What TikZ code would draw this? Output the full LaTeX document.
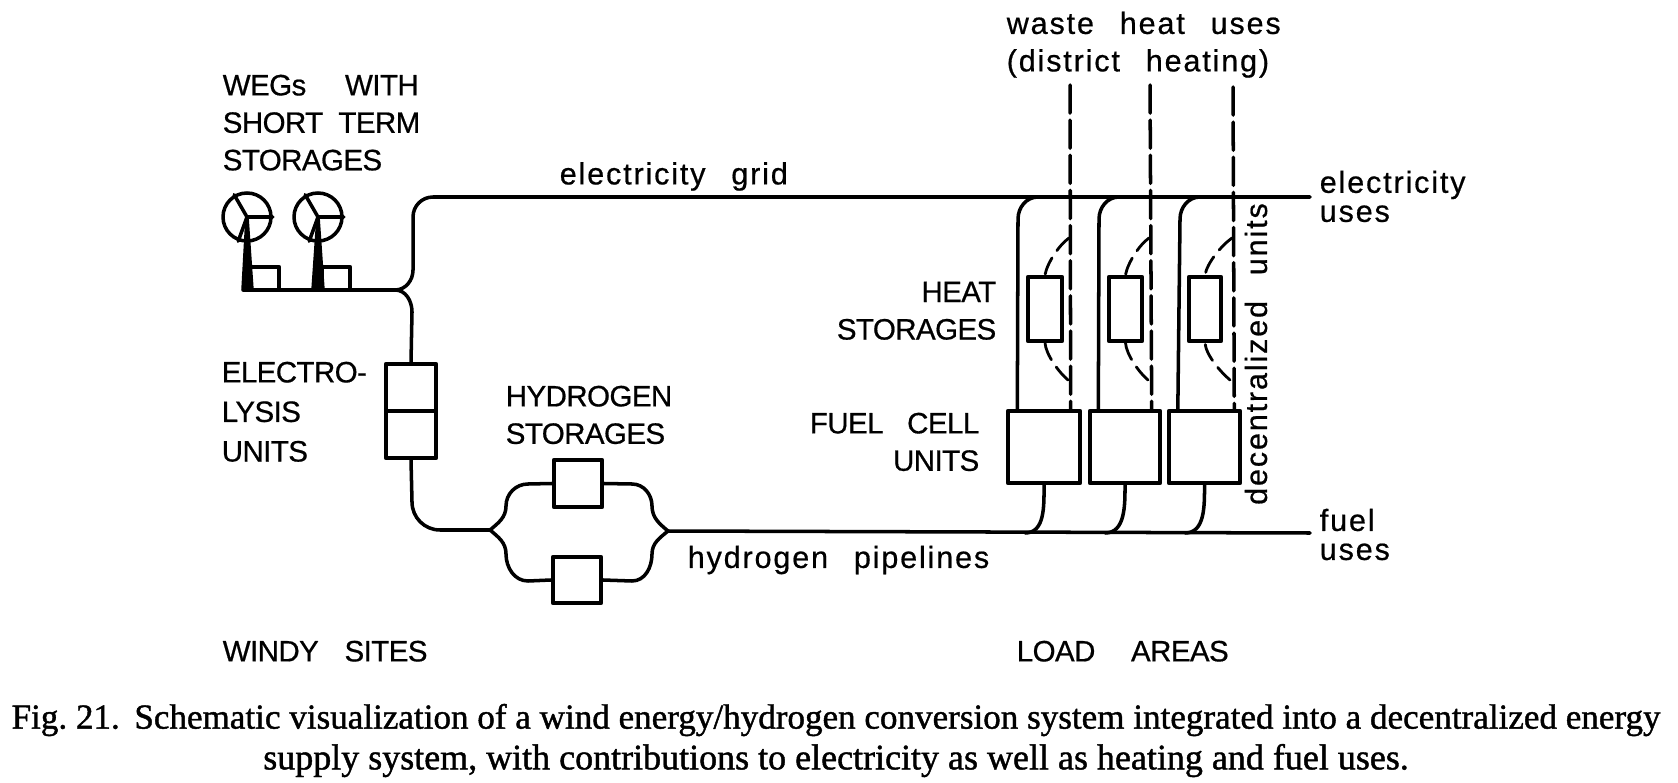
\documentclass[tikz,border=0pt]{standalone}
\usepackage{fontspec}
\newfontfamily\labelfont[LetterSpace=6,WordSpace=2.5,FakeBold=.6]{Liberation Sans}
\newfontfamily\upperfont[LetterSpace=-2,WordSpace=2,FakeBold=.6]{Liberation Sans}
\newfontfamily\capfont[FakeBold=1.2]{Liberation Serif}
\begin{document}
\begin{tikzpicture}[line join=round, line cap=round, line width=1pt, font=\labelfont\fontsize{8.7}{10.66}\selectfont,
	unit/.style={draw, line width=1.2pt, rectangle, inner sep=0pt},
	txt/.style={inner sep=0pt, align=left},
	upper/.style={txt, font=\upperfont\fontsize{8.4}{10.66}\selectfont},
	heat/.style={line width=1pt, dash pattern=on 8pt off 2pt},
	tap/.style={line width=.8pt, dash pattern=on 5pt off 2.5pt}]
		\useasboundingbox (0,0) rectangle (16.78,7.82);
		\node[upper, anchor=north west] (wegtext) at (2.21,7.09) {WEGs\hspace{6.7pt} WITH\\SHORT TERM\\STORAGES};
		\node[draw, circle, inner sep=0pt, minimum size=.48cm] (rotor1) at (2.47,5.65) {};
		\node[draw, circle, inner sep=0pt, minimum size=.48cm] (rotor2) at (3.18,5.65) {};
		\draw (rotor1.center)--(rotor1.120) (rotor1.center)--(rotor1.0) (rotor1.center)--(rotor1.250);
		\draw (rotor2.center)--(rotor2.120) (rotor2.center)--(rotor2.0) (rotor2.center)--(rotor2.250);
		\node[unit, minimum width=.29cm, minimum height=.23cm] (buffer1) at (2.645,5.035) {};
		\node[unit, minimum width=.28cm, minimum height=.23cm] (buffer2) at (3.36,5.035) {};
		\coordinate (base) at (2.44,4.92);
		\coordinate (split) at (3.95,4.92);
		\coordinate (gridend) at (13.10,5.85);
		\coordinate (fuelend) at (13.10,2.49);
		\filldraw (rotor1.center)--(2.52,4.92)--(2.43,4.92)--cycle;
		\filldraw (rotor2.center)--(3.23,4.92)--(3.13,4.92)--cycle;
		\draw (base)--(split);
		\draw (split) to[out=0,in=-90] (4.13,5.12)--(4.13,5.65) to[out=90,in=180] (4.33,5.85)--(gridend);
		\node[txt, anchor=south west] (gridtext) at (5.58,5.895) {electricity grid};
		\node[unit, minimum width=.50cm, minimum height=.47cm] (electro1) at (4.11,3.945) {};
		\node[unit, minimum width=.50cm, minimum height=.47cm] (electro2) at (4.11,3.475) {};
		\node[upper, anchor=north west] (electext) at (2.20,4.22) {ELECTRO-\\[.6pt]LYSIS\\[.6pt]UNITS};
		\draw (split) to[out=0,in=90] (4.12,4.70)--(electro1.north);
		\draw (electro2.south)--(4.12,2.80) to[out=-90,in=180] (4.40,2.52)--(4.90,2.52);
		\node[unit, minimum width=.48cm, minimum height=.47cm] (store1) at (5.78,2.985) {};
		\node[unit, minimum width=.48cm, minimum height=.46cm] (store2) at (5.77,2.02) {};
		\node[upper, anchor=north west] (storetext) at (5.04,3.98) {HYDROGEN\\STORAGES};
		\coordinate (joinL) at (4.90,2.52);
		\coordinate (joinR) at (6.68,2.51);
		\draw (joinL) to[out=40,in=-90] (5.06,2.76) to[out=90,in=180] (5.28,2.98)--(store1.west);
		\draw (joinL) to[out=-40,in=90] (5.06,2.28) to[out=-90,in=180] (5.28,2.01)--(store2.west);
		\draw (store1.east)--(6.32,2.98) to[out=0,in=90] (6.52,2.76) to[out=-90,in=140] (joinR);
		\draw (store2.east)--(6.32,2.01) to[out=0,in=-90] (6.52,2.28) to[out=90,in=-140] (joinR);
		\draw (joinR)--(fuelend);
		\node[txt, anchor=north west] (pipetext) at (6.86,2.38) {hydrogen pipelines};
		\node[upper, anchor=north west] (windytext) at (2.21,1.43) {WINDY\hspace{3pt} SITES};
		\node[upper, anchor=north west] (loadtext) at (10.15,1.43) {LOAD\hspace{5.8pt} AREAS};
		\node[unit, minimum width=.72cm, minimum height=.72cm] (fuel1) at (10.44,3.35) {};
		\node[unit, minimum width=.70cm, minimum height=.72cm] (fuel2) at (11.25,3.35) {};
		\node[unit, minimum width=.71cm, minimum height=.72cm] (fuel3) at (12.045,3.35) {};
		\node[unit, minimum width=.34cm, minimum height=.64cm] (heat1) at (10.45,4.73) {};
		\node[unit, minimum width=.33cm, minimum height=.64cm] (heat2) at (11.255,4.73) {};
		\node[unit, minimum width=.32cm, minimum height=.64cm] (heat3) at (12.05,4.73) {};
		\draw (10.38,5.85) to[out=180,in=90] (10.18,5.63)--(fuel1.125);
		\draw (11.19,5.85) to[out=180,in=90] (10.99,5.63)--(fuel2.125);
		\draw (12.00,5.85) to[out=180,in=90] (11.80,5.63)--(fuel3.125);
		\draw (fuel1.south) to[out=-90,in=0] (10.25,2.49);
		\draw (fuel2.south) to[out=-90,in=0] (11.05,2.49);
		\draw (fuel3.south) to[out=-90,in=0] (11.85,2.49);
		\coordinate (waste1) at (10.70,6.97);
		\coordinate (waste2) at (11.50,6.97);
		\coordinate (waste3) at (12.33,6.95);
		\draw[heat] (waste1)--(fuel1.55);
		\draw[heat] (waste2)--(fuel2.55);
		\draw[heat] (waste3)--(fuel3.52);
		\draw[tap] (10.69,5.44) to[out=215,in=80,looseness=.7] (heat1.north);
		\draw[tap] (11.49,5.44) to[out=215,in=80,looseness=.7] (heat2.north);
		\draw[tap] (12.32,5.44) to[out=215,in=80,looseness=.7] (heat3.north);
		\draw[tap] (10.68,4.02) to[out=140,in=-85,looseness=.7] (heat1.south);
		\draw[tap] (11.48,4.02) to[out=140,in=-85,looseness=.7] (heat2.south);
		\draw[tap] (12.30,4.02) to[out=140,in=-85,looseness=.7] (heat3.south);
		\node[upper, anchor=north east, align=right] (heattext) at (9.98,5.02) {HEAT\\STORAGES};
		\node[upper, anchor=north east, align=right] (celltext) at (9.81,3.71) {FUEL\hspace{2.4pt} CELL\\UNITS};
		\node[txt, anchor=north west] (wastetext) at (10.05,7.72) {waste heat uses\\(district heating)};
		\node[txt, anchor=west] (elecuse) at (13.18,5.856) {electricity\\[-2.4pt]uses};
		\node[txt, anchor=west] (fueluse) at (13.18,2.475) {fuel\\[-2.4pt]uses};
		\node[txt, rotate=90] (decentext) at (12.56,4.28) {decentralized units};
		\node[inner sep=0pt, align=center, font=\capfont\fontsize{10.24}{11.6}\selectfont\frenchspacing] (caption) at (8.36,.415) {{\fontsize{9.98}{11.6}\selectfont Fig. 21.\ \,Schematic visualization of a wind energy/hydrogen conversion system integrated into a decentralized energy}\\supply system, with contributions to electricity as well as heating and fuel uses.};
	\end{tikzpicture}
\end{document}
